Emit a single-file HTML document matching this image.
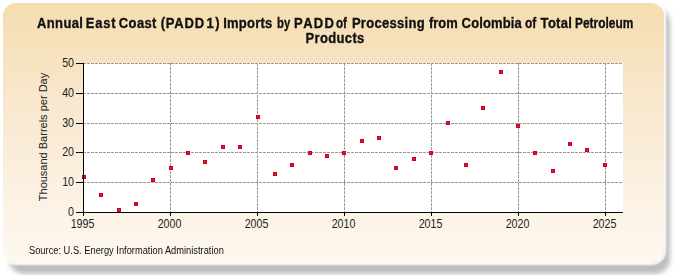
<!DOCTYPE html>
<html><head><meta charset="utf-8">
<style>
html,body{margin:0;padding:0;width:675px;height:275px;overflow:hidden;background:#fff;}
body{position:relative;font-family:"Liberation Sans",sans-serif;}
#shadow{position:absolute;left:9px;top:8px;width:661px;height:266px;border-radius:15px;background:#bdbdbd;filter:blur(2.5px);}
#panel{position:absolute;left:3px;top:3px;width:661px;height:260px;border-radius:13px;box-shadow:0 0 2px 1.5px rgba(255,255,255,0.95);
 background:linear-gradient(180deg,#f6ddb0 0%,#f8e8cf 40%,#fcf2e4 75%,#fef8ef 100%);}
#title{position:absolute;left:0;top:15px;width:675px;height:40px;font-weight:bold;font-size:13px;line-height:16px;color:#111;}
#title span{position:absolute;top:0;white-space:nowrap;transform-origin:0 0;-webkit-text-stroke:0.3px #111;}
svg{position:absolute;left:0;top:0;}
#ytitle{position:absolute;left:43px;top:137px;transform:translate(-50%,-50%) rotate(-90deg);white-space:nowrap;font-size:11px;color:#222;}
#src{position:absolute;left:29px;top:244.5px;font-size:9.3px;color:#111;transform:scaleY(1.12);transform-origin:0 2px;}
</style></head><body>
<div id="shadow"></div>
<div id="panel"></div>
<div id="title">
<span style="left:37.0px;letter-spacing:0.372px;transform:scaleY(1.08)">Annual</span>
<span style="left:85.8px;letter-spacing:0.790px;transform:scaleY(1.08)">East</span>
<span style="left:118.8px;letter-spacing:0.378px;transform:scaleY(1.08)">Coast</span>
<span style="left:160.7px;letter-spacing:0.797px;transform:scaleY(1.08)">(PADD</span>
<span style="left:206.4px;letter-spacing:1.670px;transform:scaleY(1.08)">1)</span>
<span style="left:223.2px;letter-spacing:0.243px;transform:scaleY(1.08)">Imports</span>
<span style="left:276.5px;transform:scale(0.866,1.08)">by</span>
<span style="left:294.1px;letter-spacing:1.339px;transform:scaleY(1.08)">PADD</span>
<span style="left:336.4px;transform:scale(0.896,1.08)">of</span>
<span style="left:351.9px;letter-spacing:0.306px;transform:scaleY(1.08)">Processing</span>
<span style="left:429.0px;transform:scale(0.995,1.08)">from</span>
<span style="left:461.6px;letter-spacing:0.144px;transform:scaleY(1.08)">Colombia</span>
<span style="left:525.3px;transform:scale(0.920,1.08)">of</span>
<span style="left:540.6px;letter-spacing:0.306px;transform:scaleY(1.08)">Total</span>
<span style="left:575.4px;transform:scale(0.917,1.08)">Petroleum</span>
<span style="left:305.6px; top:15px;letter-spacing:0.341px;transform:scaleY(1.08)">Products</span>

</div>
<div id="ytitle">Thousand Barrels per Day</div>
<div id="src">Source: U.S. Energy Information Administration</div>
<svg width="675" height="275" viewBox="0 0 675 275">
<rect x="83" y="63" width="540" height="150" fill="#fff">
</rect>
<g id="grid" stroke="#999" stroke-width="1" stroke-dasharray="3,1" fill="none">
<line x1="83" y1="182.5" x2="623" y2="182.5">
</line>
<line x1="83" y1="152.5" x2="623" y2="152.5">
</line>
<line x1="83" y1="123.5" x2="623" y2="123.5">
</line>
<line x1="83" y1="93.5" x2="623" y2="93.5">
</line>
<line x1="83" y1="63.5" x2="623" y2="63.5">
</line>
<line x1="170.5" y1="63" x2="170.5" y2="212">
</line>
<line x1="257.5" y1="63" x2="257.5" y2="212">
</line>
<line x1="344.5" y1="63" x2="344.5" y2="212">
</line>
<line x1="431.5" y1="63" x2="431.5" y2="212">
</line>
<line x1="518.5" y1="63" x2="518.5" y2="212">
</line>
<line x1="605.5" y1="63" x2="605.5" y2="212">
</line>
</g>
<g id="labels" font-family="Liberation Sans" font-size="11" fill="#222">
<text x="0" y="0" text-anchor="end" transform="translate(74,216) scale(0.97,1.12)">0</text>
<text x="0" y="0" text-anchor="end" transform="translate(74,186) scale(0.97,1.12)">10</text>
<text x="0" y="0" text-anchor="end" transform="translate(74,156) scale(0.97,1.12)">20</text>
<text x="0" y="0" text-anchor="end" transform="translate(74,127) scale(0.97,1.12)">30</text>
<text x="0" y="0" text-anchor="end" transform="translate(74,97) scale(0.97,1.12)">40</text>
<text x="0" y="0" text-anchor="end" transform="translate(74,67) scale(0.97,1.12)">50</text>
<text x="0" y="0" text-anchor="middle" transform="translate(82.5,228) scale(0.97,1.12)">1995</text>
<text x="0" y="0" text-anchor="middle" transform="translate(169.5,228) scale(0.97,1.12)">2000</text>
<text x="0" y="0" text-anchor="middle" transform="translate(256.5,228) scale(0.97,1.12)">2005</text>
<text x="0" y="0" text-anchor="middle" transform="translate(343.5,228) scale(0.97,1.12)">2010</text>
<text x="0" y="0" text-anchor="middle" transform="translate(430.5,228) scale(0.97,1.12)">2015</text>
<text x="0" y="0" text-anchor="middle" transform="translate(517.5,228) scale(0.97,1.12)">2020</text>
<text x="0" y="0" text-anchor="middle" transform="translate(604.5,228) scale(0.97,1.12)">2025</text>
</g>
<g id="pts" fill="#e3142e" stroke="#cc0020" stroke-width="1">
<rect x="82.5" y="175.5" width="3" height="3">
</rect>
<rect x="99.5" y="193.5" width="3" height="3">
</rect>
<rect x="117.5" y="208.5" width="3" height="3">
</rect>
<rect x="134.5" y="202.5" width="3" height="3">
</rect>
<rect x="151.5" y="178.5" width="3" height="3">
</rect>
<rect x="169.5" y="166.5" width="3" height="3">
</rect>
<rect x="186.5" y="151.5" width="3" height="3">
</rect>
<rect x="203.5" y="160.5" width="3" height="3">
</rect>
<rect x="221.5" y="145.5" width="3" height="3">
</rect>
<rect x="238.5" y="145.5" width="3" height="3">
</rect>
<rect x="256.5" y="115.5" width="3" height="3">
</rect>
<rect x="273.5" y="172.5" width="3" height="3">
</rect>
<rect x="290.5" y="163.5" width="3" height="3">
</rect>
<rect x="308.5" y="151.5" width="3" height="3">
</rect>
<rect x="325.5" y="154.5" width="3" height="3">
</rect>
<rect x="342.5" y="151.5" width="3" height="3">
</rect>
<rect x="360.5" y="139.5" width="3" height="3">
</rect>
<rect x="377.5" y="136.5" width="3" height="3">
</rect>
<rect x="394.5" y="166.5" width="3" height="3">
</rect>
<rect x="412.5" y="157.5" width="3" height="3">
</rect>
<rect x="429.5" y="151.5" width="3" height="3">
</rect>
<rect x="446.5" y="121.5" width="3" height="3">
</rect>
<rect x="464.5" y="163.5" width="3" height="3">
</rect>
<rect x="481.5" y="106.5" width="3" height="3">
</rect>
<rect x="499.5" y="70.5" width="3" height="3">
</rect>
<rect x="516.5" y="124.5" width="3" height="3">
</rect>
<rect x="533.5" y="151.5" width="3" height="3">
</rect>
<rect x="551.5" y="169.5" width="3" height="3">
</rect>
<rect x="568.5" y="142.5" width="3" height="3">
</rect>
<rect x="585.5" y="148.5" width="3" height="3">
</rect>
<rect x="603.5" y="163.5" width="3" height="3">
</rect>
</g>
<g id="axes" stroke="#000" stroke-width="1" fill="none">
<line x1="83.5" y1="63" x2="83.5" y2="213">
</line>
<line x1="83" y1="212.5" x2="623" y2="212.5">
</line>
<line x1="76" y1="212.5" x2="83" y2="212.5">
</line>
<line x1="76" y1="182.5" x2="83" y2="182.5">
</line>
<line x1="76" y1="152.5" x2="83" y2="152.5">
</line>
<line x1="76" y1="123.5" x2="83" y2="123.5">
</line>
<line x1="76" y1="93.5" x2="83" y2="93.5">
</line>
<line x1="76" y1="63.5" x2="83" y2="63.5">
</line>
<line x1="83.5" y1="212" x2="83.5" y2="216">
</line>
<line x1="170.5" y1="212" x2="170.5" y2="216">
</line>
<line x1="257.5" y1="212" x2="257.5" y2="216">
</line>
<line x1="344.5" y1="212" x2="344.5" y2="216">
</line>
<line x1="431.5" y1="212" x2="431.5" y2="216">
</line>
<line x1="518.5" y1="212" x2="518.5" y2="216">
</line>
<line x1="605.5" y1="212" x2="605.5" y2="216">
</line>
</g>
</svg>

</body></html>
